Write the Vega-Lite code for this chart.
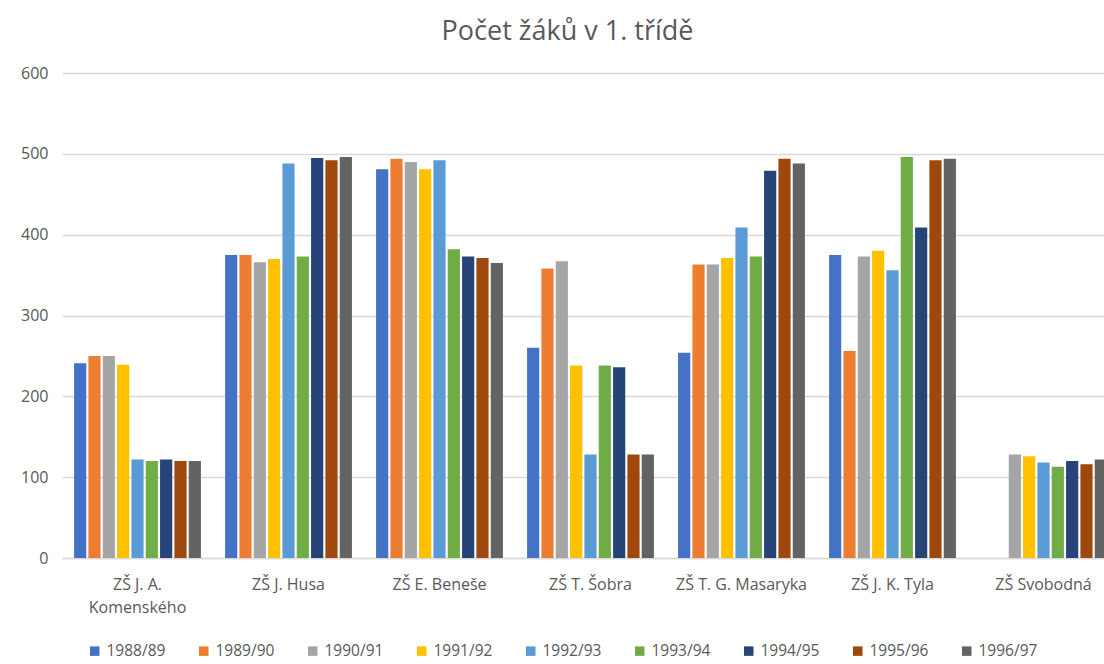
{
  "$schema": "https://vega.github.io/schema/vega-lite/v6.json",
  "width": 1057,
  "height": 485,
  "padding": {"left": 5, "top": 18, "right": 0, "bottom": 5},
  "background": "white",
  "title": {"text": "Počet žáků v 1. třídě", "fontSize": 27, "font": "Open Sans", "fontWeight": "normal", "color": "#595959", "offset": 19, "anchor": "middle", "dx": -23},
  "data": {"values": [
    {"school": "ZŠ J. A. Komenského", "year": "1988/89", "n": 241},
    {"school": "ZŠ J. A. Komenského", "year": "1989/90", "n": 250},
    {"school": "ZŠ J. A. Komenského", "year": "1990/91", "n": 250},
    {"school": "ZŠ J. A. Komenského", "year": "1991/92", "n": 239},
    {"school": "ZŠ J. A. Komenského", "year": "1992/93", "n": 122},
    {"school": "ZŠ J. A. Komenského", "year": "1993/94", "n": 120},
    {"school": "ZŠ J. A. Komenského", "year": "1994/95", "n": 122},
    {"school": "ZŠ J. A. Komenského", "year": "1995/96", "n": 120},
    {"school": "ZŠ J. A. Komenského", "year": "1996/97", "n": 120},
    {"school": "ZŠ J. Husa", "year": "1988/89", "n": 375},
    {"school": "ZŠ J. Husa", "year": "1989/90", "n": 375},
    {"school": "ZŠ J. Husa", "year": "1990/91", "n": 366},
    {"school": "ZŠ J. Husa", "year": "1991/92", "n": 370},
    {"school": "ZŠ J. Husa", "year": "1992/93", "n": 488},
    {"school": "ZŠ J. Husa", "year": "1993/94", "n": 373},
    {"school": "ZŠ J. Husa", "year": "1994/95", "n": 495},
    {"school": "ZŠ J. Husa", "year": "1995/96", "n": 492},
    {"school": "ZŠ J. Husa", "year": "1996/97", "n": 496},
    {"school": "ZŠ E. Beneše", "year": "1988/89", "n": 481},
    {"school": "ZŠ E. Beneše", "year": "1989/90", "n": 494},
    {"school": "ZŠ E. Beneše", "year": "1990/91", "n": 490},
    {"school": "ZŠ E. Beneše", "year": "1991/92", "n": 481},
    {"school": "ZŠ E. Beneše", "year": "1992/93", "n": 492},
    {"school": "ZŠ E. Beneše", "year": "1993/94", "n": 382},
    {"school": "ZŠ E. Beneše", "year": "1994/95", "n": 373},
    {"school": "ZŠ E. Beneše", "year": "1995/96", "n": 371},
    {"school": "ZŠ E. Beneše", "year": "1996/97", "n": 365},
    {"school": "ZŠ T. Šobra", "year": "1988/89", "n": 260},
    {"school": "ZŠ T. Šobra", "year": "1989/90", "n": 358},
    {"school": "ZŠ T. Šobra", "year": "1990/91", "n": 367},
    {"school": "ZŠ T. Šobra", "year": "1991/92", "n": 238},
    {"school": "ZŠ T. Šobra", "year": "1992/93", "n": 128},
    {"school": "ZŠ T. Šobra", "year": "1993/94", "n": 238},
    {"school": "ZŠ T. Šobra", "year": "1994/95", "n": 236},
    {"school": "ZŠ T. Šobra", "year": "1995/96", "n": 128},
    {"school": "ZŠ T. Šobra", "year": "1996/97", "n": 128},
    {"school": "ZŠ T. G. Masaryka", "year": "1988/89", "n": 254},
    {"school": "ZŠ T. G. Masaryka", "year": "1989/90", "n": 363},
    {"school": "ZŠ T. G. Masaryka", "year": "1990/91", "n": 363},
    {"school": "ZŠ T. G. Masaryka", "year": "1991/92", "n": 371},
    {"school": "ZŠ T. G. Masaryka", "year": "1992/93", "n": 409},
    {"school": "ZŠ T. G. Masaryka", "year": "1993/94", "n": 373},
    {"school": "ZŠ T. G. Masaryka", "year": "1994/95", "n": 479},
    {"school": "ZŠ T. G. Masaryka", "year": "1995/96", "n": 494},
    {"school": "ZŠ T. G. Masaryka", "year": "1996/97", "n": 488},
    {"school": "ZŠ J. K. Tyla", "year": "1988/89", "n": 375},
    {"school": "ZŠ J. K. Tyla", "year": "1989/90", "n": 256},
    {"school": "ZŠ J. K. Tyla", "year": "1990/91", "n": 373},
    {"school": "ZŠ J. K. Tyla", "year": "1991/92", "n": 380},
    {"school": "ZŠ J. K. Tyla", "year": "1992/93", "n": 356},
    {"school": "ZŠ J. K. Tyla", "year": "1993/94", "n": 496},
    {"school": "ZŠ J. K. Tyla", "year": "1994/95", "n": 409},
    {"school": "ZŠ J. K. Tyla", "year": "1995/96", "n": 492},
    {"school": "ZŠ J. K. Tyla", "year": "1996/97", "n": 494},
    {"school": "ZŠ Svobodná", "year": "1990/91", "n": 128},
    {"school": "ZŠ Svobodná", "year": "1991/92", "n": 126},
    {"school": "ZŠ Svobodná", "year": "1992/93", "n": 118},
    {"school": "ZŠ Svobodná", "year": "1993/94", "n": 113},
    {"school": "ZŠ Svobodná", "year": "1994/95", "n": 120},
    {"school": "ZŠ Svobodná", "year": "1995/96", "n": 116},
    {"school": "ZŠ Svobodná", "year": "1996/97", "n": 122}
  ]},
  "mark": {"type": "bar"},
  "encoding": {
    "x": {
      "field": "school", "type": "nominal", "sort": null,
      "scale": {"paddingInner": 0.16, "paddingOuter": 0.08},
      "axis": {
        "title": null, "labelAngle": 0, "ticks": false, "domainColor": "#d9d9d9", "domainWidth": 1.5,
        "labelFont": "Open Sans", "labelFontSize": 16, "labelColor": "#595959", "labelPadding": 18,
        "labelLineHeight": 23,
        "labelExpr": "datum.value == 'ZŠ J. A. Komenského' ? ['ZŠ J. A.', 'Komenského'] : datum.value"
      }
    },
    "xOffset": {"field": "year", "type": "nominal", "scale": {"paddingInner": 0.15}},
    "y": {
      "field": "n", "type": "quantitative",
      "scale": {"domain": [0, 600]},
      "axis": {
        "title": null, "values": [0, 100, 200, 300, 400, 500, 600], "labelOverlap": false,
        "domain": false, "ticks": false, "gridColor": "#d9d9d9", "gridWidth": 1.5,
        "labelFont": "Open Sans", "labelFontSize": 16, "labelColor": "#595959", "labelPadding": 14,
        "minExtent": 57, "maxExtent": 57
      }
    },
    "color": {
      "field": "year", "type": "nominal",
      "scale": {
        "domain": ["1988/89", "1989/90", "1990/91", "1991/92", "1992/93", "1993/94", "1994/95", "1995/96", "1996/97"],
        "range": ["#4472C4", "#ED7D31", "#A5A5A5", "#FFC000", "#5B9BD5", "#70AD47", "#264478", "#9E480E", "#636363"]
      },
      "legend": {
        "title": null, "orient": "none", "legendX": 25, "legendY": 570, "direction": "horizontal", "columns": 9,
        "symbolType": "square", "symbolSize": 90, "symbolStrokeWidth": 0,
        "labelFont": "Open Sans", "labelFontSize": 15.5, "labelColor": "#595959",
        "columnPadding": 30
      }
    }
  },
  "config": {"view": {"stroke": null}}
}
